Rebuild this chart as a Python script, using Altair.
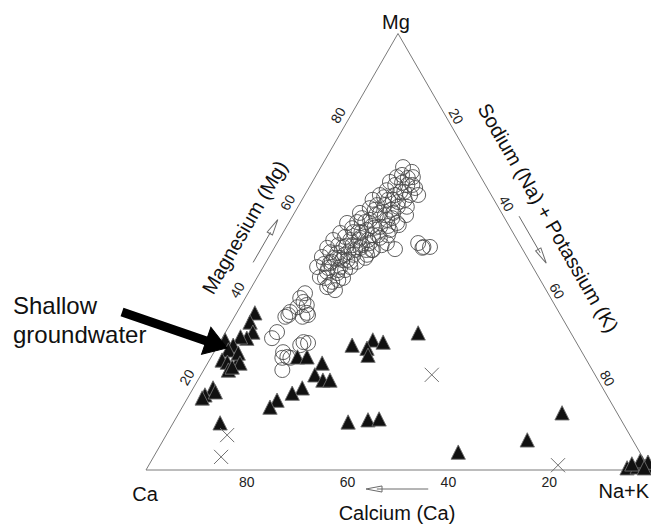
import altair as alt
import pandas as pd

# Cation composition in percent: Mg and Na+K are stored, Ca = 100 - Mg - (Na+K).
circle_mg = [69.4, 68.3, 67.1, 67.1, 66.0, 65.3, 64.6, 64.1, 63.7, 63.0, 63.0, 61.9, 61.9, 61.9,
             60.7, 60.3, 60.0, 58.9, 58.9, 60.3, 58.9, 57.3, 57.3, 56.6, 56.8, 56.6, 55.7, 55.0,
             55.0, 54.5, 54.3, 53.8, 53.2, 53.2, 52.7, 52.7, 52.0, 52.0, 51.1, 50.9, 50.9, 50.4,
             49.7, 49.3, 49.3, 48.8, 48.1, 47.4, 46.5, 46.5, 45.4, 46.5, 45.1, 44.2, 43.1, 41.9,
             41.2, 48.1, 50.6, 52.0, 51.1, 51.1, 50.9, 40.5, 39.4, 38.5, 37.3, 36.0, 35.5, 35.5,
             35.1, 31.6, 30.2, 29.3, 29.1, 27.0, 25.9, 25.7, 22.9, 36.2, 35.1, 28.6, 25.7, 37.8,
             56.8, 55.5, 51.5, 50.4, 49.9, 48.6, 48.6, 47.7, 45.8, 47.7, 51.5, 53.8, 56.1, 58.4,
             58.4, 59.6, 57.7, 55.4, 53.4, 51.5, 49.9, 63.0, 61.9, 65.8, 66.9, 60.7, 59.6, 52.7,
             54.5, 50.4, 47.7, 43.5, 44.0, 46.3,
             67.6, 65.3, 63.7, 62.5, 61.4, 58.4, 55.9, 55.9, 52.7, 50.4, 49.3, 51.5, 54.5, 51.3,
             48.6, 47.2, 45.8, 44.0, 42.4, 53.8, 57.7, 65.3, 63.0]
circle_nak = [16.3, 18.6, 19.4, 16.2, 15.4, 19.2, 21.1, 15.7, 18.6, 20.9, 14.9, 18.0, 20.4, 14.0,
              17.0, 19.8, 14.4, 17.0, 19.6, 21.6, 13.0, 15.8, 19.2, 21.5, 13.5, 11.6, 18.6, 16.3,
              20.9, 13.9, 11.4, 18.1, 15.9, 19.8, 14.2, 10.8, 18.4, 21.8, 13.6, 17.1, 10.5, 19.8,
              13.1, 16.5, 19.2, 10.5, 15.9, 12.8, 15.3, 10.7, 13.2, 17.3, 15.4, 12.4, 15.4, 15.0,
              16.9, 14.9, 24.1, 28.0, 29.5, 30.8, 29.4, 11.3, 10.9, 12.0, 11.4, 13.9, 14.4, 10.5,
              13.5, 10.2, 9.9, 16.6, 17.6, 13.7, 15.1, 14.2, 15.6, 10.5, 10.1, 16.3, 15.8, 13.0,
              15.1, 17.6, 17.1, 16.3, 15.2, 19.2, 14.2, 13.0, 16.6, 18.0, 21.0, 21.1, 22.1, 22.4,
              18.2, 15.6, 14.0, 13.2, 12.8, 12.4, 11.6, 17.9, 17.1, 17.9, 18.5, 15.5, 18.8, 17.7,
              14.9, 19.6, 16.7, 16.4, 13.5, 13.0,
              17.0, 16.8, 19.4, 16.0, 19.3, 16.4, 20.1, 16.9, 15.8, 18.5, 14.7, 15.2, 15.5, 14.1,
              13.0, 11.7, 15.2, 17.1, 15.3, 19.1, 20.0, 20.2, 22.5]

tri_mg = [36.0, 33.9, 31.6, 30.2, 30.5, 29.8, 28.6, 27.5, 25.2, 24.7, 24.7, 26.8, 22.9, 18.8,
          17.2, 16.5, 10.8, 24.5, 23.6, 17.9, 28.6, 29.8, 29.3, 27.9, 26.3, 31.4, 25.9, 25.9,
          24.5, 21.8, 20.6, 20.6, 18.8, 17.6, 16.0, 14.4, 11.0, 11.5, 11.7, 4.1, 6.9, 13.1,
          0.5, 0.7, 0.9, 1.6, 0.9, 2.1, 1.4, 1.8, 0.5]
tri_nak = [3.6, 3.7, 5.4, 4.9, 3.5, 0.8, 3.0, 2.6, 2.5, 3.8, 5.8, 4.9, 4.9, 3.9,
           3.1, 2.9, 9.3, 6.4, 5.3, 4.8, 26.6, 30.1, 32.4, 29.9, 30.9, 38.3, 17.1, 19.0,
           22.7, 22.6, 24.8, 26.2, 21.6, 20.2, 18.0, 17.4, 34.6, 38.3, 40.4, 59.9, 72.2, 76.0,
           95.2, 97.1, 98.6, 97.6, 99.2, 97.0, 95.7, 98.7, 98.6]

cross_mg = [21.8, 8.0, 3.0, 1.1]
cross_nak = [45.8, 12.1, 13.4, 81.2]

tick_values = [20, 40, 60, 80]

# Frame: Ca corner at (0, 0), Na+K corner at (1, 0), Mg apex at (0.5, 1).
PX_X, PX_Y = 504.0, 436.5
xs = alt.Scale(domain=[-146 / PX_X, 505 / PX_X], nice=False, zero=False)
ys = alt.Scale(domain=[-56 / PX_Y, 470 / PX_Y], nice=False, zero=False)
FONT = "Liberation Sans"


def to_xy(mg, nak):
    return (nak + mg / 2) / 100, mg / 100


def left_edge(m, d):
    return m / 2 - 0.866 * d / PX_X, m + 0.5 * d / PX_Y


def right_edge(v, d):
    return 0.5 + v / 2 + 0.866 * d / PX_X, 1 - v + 0.5 * d / PX_Y


def bottom_edge(ca, d):
    return 1 - ca, -d / PX_Y


def points(mg, nak):
    rows = [to_xy(a, b) for a, b in zip(mg, nak)]
    return pd.DataFrame(rows, columns=["x", "y"])


def enc(chart):
    return chart.encode(x=alt.X("x:Q", scale=xs, axis=None),
                        y=alt.Y("y:Q", scale=ys, axis=None))


# Triangle outline
corners = pd.DataFrame({"x": [0, 0.5, 1, 0], "y": [0, 1, 0, 0], "o": [0, 1, 2, 3]})
outline = alt.Chart(corners).mark_line(color="#7a7a7a", strokeWidth=1).encode(
    x=alt.X("x:Q", scale=xs, axis=None), y=alt.Y("y:Q", scale=ys, axis=None), order="o:Q")

# Samples
circles = enc(alt.Chart(points(circle_mg, circle_nak)).mark_point(
    shape="circle", size=225, filled=False, stroke="#474747", strokeWidth=1, opacity=0.85))
tri_shape = "M0,-1L1,1L-1,1Z"
triangles = enc(alt.Chart(points(tri_mg, tri_nak)).mark_point(
    shape=tri_shape, size=205, filled=True, fill="#111111", stroke="#6e6e6e",
    strokeWidth=0.9, opacity=1))
crosses = enc(alt.Chart(points(cross_mg, cross_nak)).mark_point(
    shape="M-1,-1L1,1M1,-1L-1,1", size=200, filled=False, stroke="#707070",
    strokeWidth=1, opacity=1))

# Tick labels on the three edges
tick_rows = []
for t in tick_values:
    f = t / 100
    tick_rows.append((*left_edge(f, 10), str(t), 300))
    tick_rows.append((*right_edge(f, 8), str(t), 60))
    tick_rows.append((*bottom_edge(f, 13), str(t), 0))
ticks = pd.DataFrame(tick_rows, columns=["x", "y", "label", "angle"])
tick_text = enc(alt.Chart(ticks).mark_text(
    font=FONT, fontSize=14, color="#222", baseline="middle", align="center")).encode(
    text="label:N", angle=alt.Angle("angle:Q", scale=None))

# Corner and axis titles
corner_rows = [(0.496, 441 / PX_Y, "Mg"), (-0.002, -31 / PX_Y, "Ca"),
               (0.948, -28 / PX_Y, "Na+K"), (0.498, -50 / PX_Y, "Calcium (Ca)")]
corner_text = enc(alt.Chart(pd.DataFrame(corner_rows, columns=["x", "y", "label"])).mark_text(
    font=FONT, fontSize=20, color="#111", baseline="alphabetic", align="center")).encode(
    text="label:N")

side_rows = [(*left_edge(0.515, 35), "Magnesium (Mg)", 300),
             (*right_edge(0.466, 37), "Sodium (Na) + Potassium (K)", 60)]
side_text = enc(alt.Chart(pd.DataFrame(side_rows, columns=["x", "y", "label", "angle"])).mark_text(
    font=FONT, fontSize=20, color="#111", baseline="middle", align="center")).encode(
    text="label:N", angle=alt.Angle("angle:Q", scale=None))

# Direction arrows beside each edge
mg_a = left_edge(0.463, 11), left_edge(0.532, 11), left_edge(0.545, 11)
na_a = right_edge(0.434, 13.5), right_edge(0.518, 13.5), right_edge(0.526, 13.5)
ca_a = bottom_edge(0.44, 19), bottom_edge(0.542, 19), bottom_edge(0.5476, 19)
shafts = pd.DataFrame([(a[0][0], a[0][1], a[1][0], a[1][1]) for a in (mg_a, na_a, ca_a)],
                      columns=["x", "y", "x2", "y2"])
shaft_rules = alt.Chart(shafts).mark_rule(color="#6a6a6a", strokeWidth=1).encode(
    x=alt.X("x:Q", scale=xs, axis=None), y=alt.Y("y:Q", scale=ys, axis=None),
    x2="x2:Q", y2="y2:Q")
heads = pd.DataFrame([(mg_a[2][0], mg_a[2][1], 300), (na_a[2][0], na_a[2][1], 60),
                      (ca_a[2][0], ca_a[2][1], 180)], columns=["x", "y", "angle"])
head_marks = enc(alt.Chart(heads).mark_point(
    shape="M1,0L-1,-0.38L-1,0.38Z", size=256, filled=False, stroke="#6a6a6a",
    strokeWidth=1, opacity=1)).encode(angle=alt.Angle("angle:Q", scale=None))

# "Shallow groundwater" callout
callout = pd.DataFrame({"x": [-0.2639, -0.2639], "y": [0.3574, 0.2909],
                        "label": ["Shallow", "groundwater"]})
callout_text = enc(alt.Chart(callout).mark_text(
    font=FONT, fontSize=24, color="#111", align="left", baseline="alphabetic")).encode(
    text="label:N")
arrow_shaft = pd.DataFrame({"x": [-0.0476], "y": [0.362], "x2": [0.1401], "y2": [0.2877]})
arrow_rule = alt.Chart(arrow_shaft).mark_rule(color="#000", strokeWidth=9).encode(
    x=alt.X("x:Q", scale=xs, axis=None), y=alt.Y("y:Q", scale=ys, axis=None),
    x2="x2:Q", y2="y2:Q")
arrow_head = enc(alt.Chart(pd.DataFrame({"x": [0.1401], "y": [0.2877]})).mark_point(
    shape="M1,0L-1,-1.3L-1,1.3Z", size=484, filled=True, fill="#000", stroke="#000",
    strokeWidth=1, opacity=1, angle=19))

chart = alt.layer(
    outline, shaft_rules, head_marks, circles, triangles, crosses,
    tick_text, corner_text, side_text, callout_text, arrow_rule, arrow_head,
).properties(
    width=651, height=526, autosize=alt.AutoSizeParams(type="none"), padding=0,
    background="white",
).configure_view(stroke=None)

chart.save("out.html", embed_options={"renderer": "svg", "actions": False})
